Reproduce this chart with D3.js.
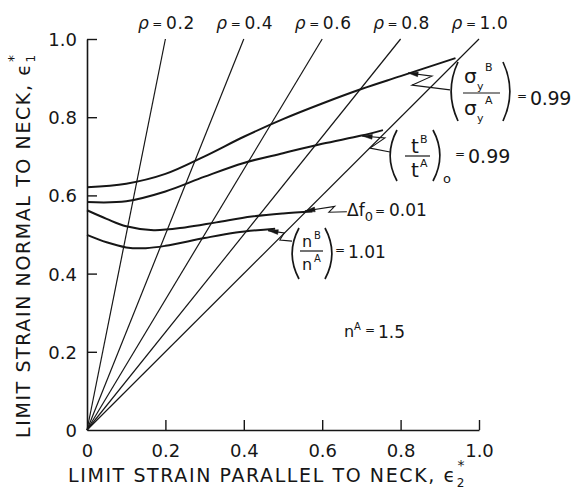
<!DOCTYPE html>
<html><head><meta charset="utf-8">
<script src="https://cdn.jsdelivr.net/npm/d3@7"></script>
<style>
body{margin:0;background:#fff}
svg{display:block}
text{font-family:"DejaVu Sans",sans-serif;fill:#161616}
</style>
</head><body>
<svg id="c" width="574" height="491"></svg>
<script>
// ---------- data ----------
const xTickValues = [0, 0.2, 0.4, 0.6, 0.8, 1.0];
const xTickLabels = ["0", "0.2", "0.4", "0.6", "0.8", "1.0"];
const yTickValues = [0, 0.2, 0.4, 0.6, 0.8, 1.0];
const yTickLabels = ["0", "0.2", "0.4", "0.6", "0.8", "1.0"];
const rhoValues = [0.2, 0.4, 0.6, 0.8, 1.0];
const rhoLabels = ["0.2", "0.4", "0.6", "0.8", "1.0"];
const rhoTopStrain = 1.0;

// [eps2, eps1]
const curveSigma = [[0,0.621],[0.1,0.630],[0.2,0.655],[0.3,0.700],[0.4,0.750],[0.5,0.795],[0.6,0.835],[0.7,0.872],[0.8,0.905],[0.94,0.951]];
const curveThick = [[0,0.583],[0.1,0.585],[0.2,0.610],[0.3,0.648],[0.4,0.683],[0.5,0.708],[0.6,0.732],[0.7,0.753],[0.755,0.767]];
const curveDf    = [[0,0.562],[0.05,0.540],[0.1,0.521],[0.17,0.511],[0.25,0.518],[0.33,0.531],[0.42,0.546],[0.5,0.554],[0.575,0.559]];
const curveN     = [[0,0.499],[0.05,0.480],[0.1,0.467],[0.15,0.465],[0.2,0.471],[0.3,0.491],[0.38,0.505],[0.48,0.515]];

// leader lines (data coords), last point = arrow tip on the curve
const leaderSigma = [[0.926,0.870],[0.829,0.882],[0.880,0.905],[0.819,0.913]];
const leaderThick = [[0.773,0.711],[0.722,0.721],[0.760,0.747],[0.702,0.752]];
const leaderDf    = [[0.663,0.558],[0.617,0.557],[0.632,0.572],[0.556,0.560]];
const leaderN     = [[0.523,0.483],[0.492,0.486],[0.503,0.504],[0.462,0.510]];

const valSigma = "0.99", valThick = "0.99", valDf = "0.01", valN = "1.01", valNA = "1.5";

// ---------- drawing ----------
const svg = d3.select("#c");
const x = d3.scaleLinear().domain([0, 1]).range([87, 479]);
const y = d3.scaleLinear().domain([0, 1]).range([430, 39]);
const ink = "#161616";

// axes
const xAxis = d3.axisBottom(x).tickValues(xTickValues).tickFormat((d,i)=>xTickLabels[i])
  .tickSizeInner(-10).tickSizeOuter(0).tickPadding(8);
const yAxis = d3.axisLeft(y).tickValues(yTickValues).tickFormat((d,i)=>yTickLabels[i])
  .tickSizeInner(-10).tickSizeOuter(0).tickPadding(10);

const gx = svg.append("g").attr("transform", `translate(0,${y(0)})`).call(xAxis);
const gy = svg.append("g").attr("transform", `translate(${x(0)},0)`).call(yAxis);
[gx, gy].forEach(g => {
  g.select(".domain").attr("stroke", ink).attr("stroke-width", 1.6);
  g.selectAll(".tick line").attr("stroke", ink).attr("stroke-width", 1.4);
  g.selectAll(".tick text").attr("font-family", "DejaVu Sans").attr("font-size", 18).attr("fill", ink);
});
gx.selectAll(".tick text").attr("dy", "1.05em");
gy.selectAll(".tick text").attr("dy", "0.36em");
gy.selectAll(".tick").filter(d => d === 0).select("line").remove();
gx.selectAll(".tick").filter(d => d === 0).select("line").remove();

// rho lines
svg.append("g").selectAll("line").data(rhoValues).join("line")
  .attr("x1", x(0)).attr("y1", y(0))
  .attr("x2", d => x(d * rhoTopStrain)).attr("y2", y(rhoTopStrain))
  .attr("stroke", ink).attr("stroke-width", 1.2);

// rho labels
const rl = svg.append("g").selectAll("text").data(rhoValues).join("text")
  .attr("x", d => x(d * rhoTopStrain) + 1).attr("y", 29)
  .attr("text-anchor", "middle").attr("font-size", 17).attr("letter-spacing", 0.6);
rl.append("tspan").attr("font-style", "italic").text("ρ");
rl.append("tspan").attr("font-size", 12).attr("dx", 3).attr("dy", -1).text("=");
rl.append("tspan").attr("dx", 3).attr("dy", 1).text((d,i) => rhoLabels[i]);

// curves
const line = d3.line().x(d => x(d[0])).y(d => y(d[1])).curve(d3.curveCatmullRom.alpha(0.5));
[curveSigma, curveThick, curveDf, curveN].forEach(c => {
  svg.append("path").attr("d", line(c)).attr("fill", "none")
    .attr("stroke", ink).attr("stroke-width", 2);
});

// leaders with arrowheads
const lline = d3.line().x(d => x(d[0])).y(d => y(d[1]));
[leaderSigma, leaderThick, leaderDf, leaderN].forEach(l => {
  svg.append("path").attr("d", lline(l)).attr("fill", "none")
    .attr("stroke", ink).attr("stroke-width", 1.1);
  const tip = l[l.length - 1], prev = l[l.length - 2];
  const tx = x(tip[0]), ty = y(tip[1]);
  const ang = Math.atan2(y(prev[1]) - ty, x(prev[0]) - tx);
  const L = 10, W = 2.4;
  const bx = tx + L * Math.cos(ang), by = ty + L * Math.sin(ang);
  const nx = -Math.sin(ang) * W, ny = Math.cos(ang) * W;
  svg.append("path").attr("d", `M${tx},${ty}L${bx+nx},${by+ny}L${bx-nx},${by-ny}Z`)
    .attr("fill", ink).attr("stroke", ink).attr("stroke-width", 0.5);
});

// helpers
function paren(x0, y0, y1, dir) { // dir -1 = "(" , +1 = ")"
  const bulge = 11 * dir;
  svg.append("path")
    .attr("d", `M${x0},${y0}Q${x0 + bulge * 1.25},${(y0 + y1) / 2} ${x0},${y1}`)
    .attr("fill", "none").attr("stroke", ink).attr("stroke-width", 1.7);
}
function txt(xp, yp, s, size, opts = {}) {
  const t = svg.append("text").attr("x", xp).attr("y", yp).attr("font-size", size).text(s);
  if (opts.anchor) t.attr("text-anchor", opts.anchor);
  if (opts.italic) t.attr("font-style", "italic");
  if (opts.ls !== undefined) t.attr("letter-spacing", opts.ls);
  return t;
}
function bar(x0, x1, yp) {
  svg.append("line").attr("x1", x0).attr("x2", x1).attr("y1", yp).attr("y2", yp)
    .attr("stroke", ink).attr("stroke-width", 1.2);
}

// sigma_y ratio label
paren(458, 62, 121, -1);
txt(464, 83, "σ", 20);
txt(477, 90, "y", 11);
txt(485, 71, "B", 11);
bar(463, 500, 93);
txt(464, 115, "σ", 20);
txt(477, 122, "y", 11);
txt(485, 104, "A", 11);
paren(503, 62, 121, 1);
txt(517, 100, "=", 12);
txt(530, 105, valSigma, 19, {ls: -0.3});

// thickness ratio label
paren(397, 130, 181, -1);
txt(411, 153, "t", 20);
txt(420, 143, "B", 11);
bar(405, 430, 156);
txt(411, 177, "t", 20);
txt(420, 167, "A", 11);
paren(433, 130, 181, 1);
txt(443, 183, "o", 13);
txt(455, 158, "=", 12);
txt(468, 163, valThick, 19);

// delta f label
const tdf = svg.append("text").attr("x", 347).attr("y", 216).attr("font-size", 17);
tdf.append("tspan").text("Δf");
tdf.append("tspan").attr("font-size", 13).attr("dy", 5).text("0");
tdf.append("tspan").attr("font-size", 12).attr("dy", -6).attr("dx", 2).text("=");
tdf.append("tspan").attr("dx", 4).attr("dy", 1).text(valDf);

// n ratio label
paren(299, 228, 279, -1);
txt(302, 247, "n", 16);
txt(314, 239, "B", 10);
bar(300, 323, 251);
txt(302, 270, "n", 16);
txt(314, 262, "A", 10);
paren(325, 228, 279, 1);
txt(335, 254, "=", 12);
txt(348, 258, valN, 17);

// n^A label
txt(344, 337, "n", 16);
txt(354, 330, "A", 10);
txt(365, 334, "=", 12);
txt(378, 338, valNA, 17);

// axis titles
const xt = svg.append("text").attr("x", 68).attr("y", 482).attr("font-size", 19).attr("letter-spacing", 1.6);
xt.append("tspan").text("LIMIT STRAIN PARALLEL TO NECK, ϵ");
xt.append("tspan").attr("font-size", 12).attr("dy", 5).attr("letter-spacing", 0).text("2");
xt.append("tspan").attr("font-size", 14).attr("dy", -17).attr("dx", -7).attr("letter-spacing", 0).text("*");

const yt = svg.append("text").attr("transform", "translate(30,438) rotate(-90)")
  .attr("x", 0).attr("y", 0).attr("font-size", 19).attr("letter-spacing", 1.6);
yt.append("tspan").text("LIMIT STRAIN NORMAL TO NECK, ϵ");
yt.append("tspan").attr("font-size", 12).attr("dy", 5).attr("letter-spacing", 0).text("1");
yt.append("tspan").attr("font-size", 14).attr("dy", -17).attr("dx", -7).attr("letter-spacing", 0).text("*");
</script>
</body></html>
